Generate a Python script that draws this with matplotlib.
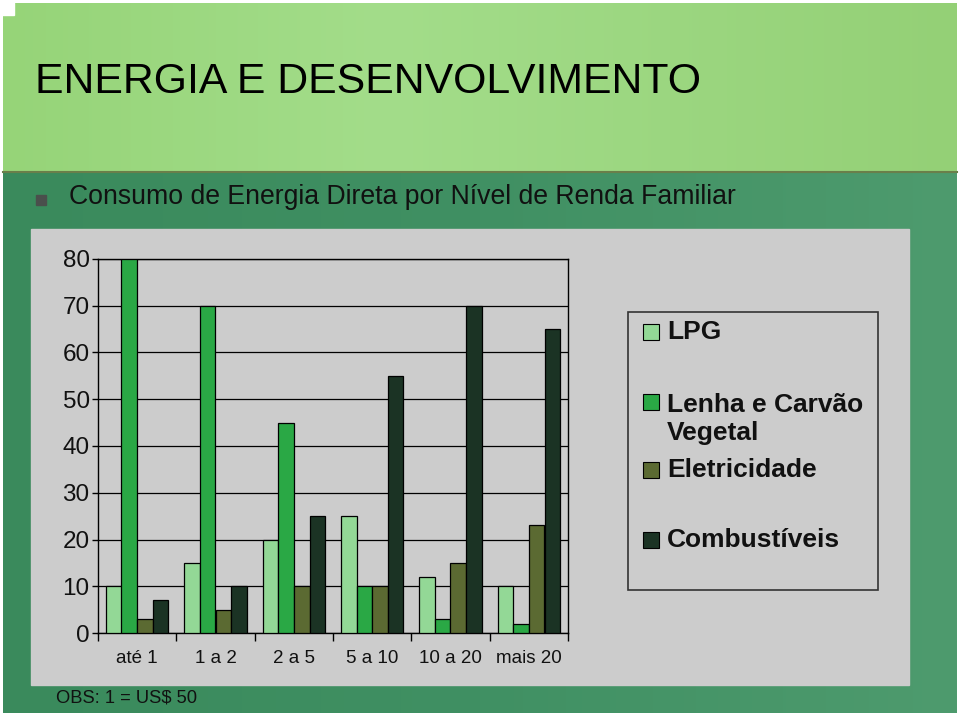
import numpy as np
import matplotlib
matplotlib.use("Agg")
import matplotlib.pyplot as plt
from matplotlib.patches import Rectangle

plt.rcParams['font.family'] = ['Liberation Sans', 'DejaVu Sans']

# ---- data ----
categories = ["até 1", "1 a 2", "2 a 5", "5 a 10", "10 a 20", "mais 20"]
series_names = ["LPG", "Lenha e Carvão\nVegetal", "Eletricidade", "Combustíveis"]
lpg = [10, 15, 20, 25, 12, 10]
lenha = [80, 70, 45, 10, 3, 2]
eletricidade = [3, 5, 10, 10, 15, 23]
combustiveis = [7, 10, 25, 55, 70, 65]
series_values = [lpg, lenha, eletricidade, combustiveis]
series_colors = ["#93d896", "#2aa845", "#5b6a32", "#1b3324"]
y_ticks = [0, 10, 20, 30, 40, 50, 60, 70, 80]

W, H = 960, 720
fig = plt.figure(figsize=(9.6, 7.2), dpi=100)

# ---- background (slide) ----
bg = fig.add_axes([0, 0, 1, 1], zorder=-10)
bg.set_xlim(0, W)
bg.set_ylim(H, 0)
bg.axis("off")
bg.add_patch(Rectangle((0, 0), W, H, color="white"))


def gradient(stops, n=400):
    ts = np.linspace(0, 1, n)
    pos = np.array([s[0] for s in stops])
    cols = np.array([s[1] for s in stops]) / 255.0
    img = np.stack([np.interp(ts, pos, cols[:, c]) for c in range(3)], axis=-1)
    return np.repeat(img[None, :, :], 4, axis=0)


top_img = gradient([(0, (150, 212, 120)), (0.4, (163, 221, 138)), (1, (148, 208, 118))])
bg.imshow(top_img, extent=(3, 957, 172, 3), aspect="auto", zorder=1,
          interpolation="bilinear")
bg.add_patch(Rectangle((0, 0), 14, 15, color="white", zorder=2))
low_img = gradient([(0, (58, 138, 92)), (0.5, (64, 144, 99)), (1, (78, 155, 110))])
bg.imshow(low_img, extent=(3, 957, 713, 172), aspect="auto", zorder=1,
          interpolation="bilinear")
bg.plot([3, 957], [172, 172], color="#6a7f4a", lw=1.5, zorder=2)
# gray panel
bg.add_patch(Rectangle((31, 229), 878, 456, color="#cccccc", zorder=3))
# legend box
bg.add_patch(Rectangle((628, 312), 250, 278, facecolor="none", edgecolor="#333333", lw=1.2, zorder=4))

# titles
bg.text(35, 82, "ENERGIA E DESENVOLVIMENTO", fontsize=30.8, color="black",
        va="center", ha="left", zorder=5)
bg.add_patch(Rectangle((36, 195), 10, 10, color="#4a4f4c", zorder=5))
bg.text(69, 197, "Consumo de Energia Direta por Nível de Renda Familiar",
        fontsize=19.2, color="#111111", va="center", ha="left", zorder=5)
bg.text(56, 698, "OBS: 1 = US$ 50", fontsize=13.2, color="#111111",
        va="center", ha="left", zorder=5)

# ---- chart ----
ax = fig.add_axes([98 / W, 1 - 633 / H, (568 - 98) / W, (633 - 259) / H])
ax.set_facecolor("#cccccc")
x = np.arange(len(categories))
bw = 0.2
for k, (vals, col) in enumerate(zip(series_values, series_colors)):
    ax.bar(x + (k - 1.5) * bw, vals, width=bw, color=col,
           edgecolor="black", linewidth=0.9, zorder=3)
ax.set_xlim(-0.5, len(categories) - 0.5)
ax.set_ylim(0, 80)
ax.set_yticks(y_ticks)
ax.set_yticklabels([str(v) for v in y_ticks], fontsize=17.5, color="#111111")
ax.yaxis.grid(True, color="black", linewidth=0.9, zorder=0)
ax.set_axisbelow(True)
ax.set_xticks(x)
ax.set_xticklabels(categories, fontsize=13.5, color="#111111")
ax.set_xticks(np.arange(len(categories) + 1) - 0.5, minor=True)
ax.tick_params(axis="x", which="major", length=0, pad=12)
ax.tick_params(axis="x", which="minor", length=6, width=1, color="black", direction="out")
ax.tick_params(axis="y", length=4, width=1, color="black", direction="out", pad=2)
for s in ax.spines.values():
    s.set_color("black")
    s.set_linewidth(1)

# ---- legend (drawn) ----
leg_y = [332, 402, 470, 540]
leg_text_y = [332, 419, 470, 540]
for name, col, yh, yt in zip(series_names, series_colors, leg_y, leg_text_y):
    bg.add_patch(Rectangle((643, yh - 8), 16, 16, facecolor=col, edgecolor="black",
                           lw=0.8, zorder=6))
    bg.text(667, yt, name, fontsize=19, fontweight="bold", color="#111111",
            va="center", ha="left", linespacing=1.25, zorder=6)

fig.savefig("out.png", dpi=100)
